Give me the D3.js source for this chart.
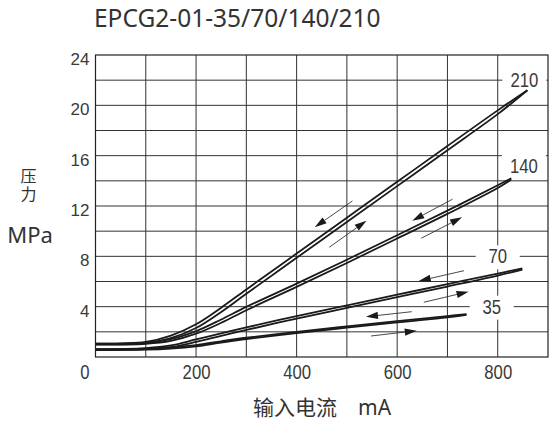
<!DOCTYPE html>
<html>
<head>
<meta charset="utf-8">
<script src="https://cdn.jsdelivr.net/npm/d3@7"></script>
<style>
  html, body { margin: 0; padding: 0; background: #fff; }
  svg { display: block; }
  .num { font-family: "Liberation Sans", Arial, sans-serif; fill: #3a3a3a; }
</style>
</head>
<body>
<div id="chart"></div>
<script>
// pressure curves, [mA, MPa]; each model has a rising and a falling branch
const rise210 = [[0,1.0],[100,1.1],[150,1.5],[200,2.3],[250,3.58],[300,5.03],[400,7.88],[500,10.73],[600,13.58],[700,16.43],[800,19.3],[859,21.2]];
const fall210 = [[0,1.06],[100,1.2],[150,1.7],[200,2.6],[250,3.92],[300,5.37],[400,8.22],[500,11.07],[600,13.92],[700,16.77],[800,19.6],[859,21.2]];
const rise140 = [[0,0.98],[100,1.05],[150,1.28],[200,1.85],[250,2.72],[300,3.72],[400,5.57],[500,7.47],[600,9.42],[700,11.37],[800,13.43],[827,14.1]];
const fall140 = [[0,1.06],[100,1.14],[150,1.42],[200,2.05],[250,2.98],[300,3.98],[400,5.83],[500,7.73],[600,9.68],[700,11.63],[800,13.65],[827,14.2]];
const rise70 = [[0,0.56],[100,0.62],[150,0.78],[200,1.2],[250,1.68],[300,2.15],[400,3.05],[500,3.9],[600,4.75],[700,5.6],[800,6.47],[849,6.95]];
const fall70 = [[0,0.63],[100,0.71],[150,0.92],[200,1.4],[250,1.88],[300,2.35],[400,3.25],[500,4.1],[600,4.95],[700,5.8],[800,6.63],[849,7.05]];
const rise35 = [[0,0.54],[100,0.58],[150,0.67],[200,0.85],[250,1.15],[300,1.43],[400,1.9],[500,2.33],[600,2.75],[700,3.15],[738,3.35]];
const fall35 = [[0,0.62],[100,0.66],[150,0.77],[200,0.95],[250,1.25],[300,1.53],[400,2.0],[500,2.43],[600,2.85],[700,3.25],[738,3.41]];

// arrows: [from mA, from MPa, to mA, to MPa]
const arrows = [
  [511, 12.40, 436, 10.31], [465, 8.72, 539, 10.83],
  [710, 12.54, 630, 10.83], [648, 9.44, 729, 11.10],
  [733, 6.86, 643, 6.04], [653, 4.35, 742, 5.19],
  [629, 3.60, 538, 3.20], [548, 1.67, 639, 2.09]
];

// curve labels: text, mA, MPa
const curveLabels = [['210', 853, 22], ['140', 852, 15.2], ['70', 800, 8], ['35', 788, 4]];

const xTicks = [0, 200, 400, 600, 800];
const yTicks = [4, 8, 12, 16, 20, 24];
const xGrid = d3.range(100, 900, 100);
const yGrid = d3.range(2, 24, 2);

const width = 549;
const height = 425;

const x = d3.scaleLinear().domain([0, 900]).range([95.5, 548]);
const y = d3.scaleLinear().domain([0, 24]).range([357, 55]);

const svg = d3.select('#chart').append('svg')
  .attr('width', width)
  .attr('height', height);

// grid
const grid = svg.append('g').attr('stroke', '#333').attr('stroke-width', 1);
grid.selectAll('line.v').data(xGrid).join('line')
  .attr('class', 'v')
  .attr('x1', (d) => x(d)).attr('x2', (d) => x(d))
  .attr('y1', y(24)).attr('y2', y(0));
grid.selectAll('line.h').data(yGrid).join('line')
  .attr('class', 'h')
  .attr('x1', x(0)).attr('x2', x(900))
  .attr('y1', (d) => y(d)).attr('y2', (d) => y(d));

svg.append('rect')
  .attr('x', x(0)).attr('y', y(24))
  .attr('width', x(900) - x(0)).attr('height', y(0) - y(24))
  .attr('fill', 'none').attr('stroke', '#222').attr('stroke-width', 1.2);

// white boxes behind the curve labels
svg.append('g').selectAll('rect').data(curveLabels).join('rect')
  .attr('x', (d) => x(d[1]) - 22)
  .attr('y', (d) => y(d[2]) - 11)
  .attr('width', 44)
  .attr('height', 24)
  .attr('fill', '#fff');

// curves
const line = d3.line()
  .x((d) => x(d[0]))
  .y((d) => y(d[1]))
  .curve(d3.curveCatmullRom.alpha(0.5));

const series = [rise210, fall210, rise140, fall140, rise70, fall70, rise35, fall35];
svg.append('g').selectAll('path').data(series).join('path')
  .attr('d', line)
  .attr('fill', 'none')
  .attr('stroke', '#1a1a1a')
  .attr('stroke-width', 1.8);

// arrows
const arrowG = svg.append('g');
arrows.forEach((a) => {
  const x1 = x(a[0]), y1 = y(a[1]), x2 = x(a[2]), y2 = y(a[3]);
  const ang = Math.atan2(y2 - y1, x2 - x1);
  const len = 12, half = 3.6;
  const bx = x2 - len * Math.cos(ang), by = y2 - len * Math.sin(ang);
  arrowG.append('line')
    .attr('x1', x1).attr('y1', y1).attr('x2', bx).attr('y2', by)
    .attr('stroke', '#333').attr('stroke-width', 0.9);
  const px = -Math.sin(ang) * half, py = Math.cos(ang) * half;
  arrowG.append('path')
    .attr('d', `M${x2},${y2}L${bx + px},${by + py}L${bx - px},${by - py}Z`)
    .attr('fill', '#1a1a1a');
});

// squeeze digits a little, the source uses a condensed face
const digitW = 9.3;

// curve labels
svg.append('g').selectAll('text').data(curveLabels).join('text')
  .attr('class', 'num')
  .attr('x', (d) => x(d[1]))
  .attr('y', (d) => y(d[2]) + 7)
  .attr('text-anchor', 'middle')
  .attr('textLength', (d) => d[0].length * digitW)
  .attr('lengthAdjust', 'spacingAndGlyphs')
  .style('font-size', '19.5px')
  .text((d) => d[0]);

// axes
const xAxis = svg.append('g')
  .attr('transform', `translate(0, ${y(0)})`)
  .call(d3.axisBottom(x).tickValues(xTicks).tickSize(0).tickPadding(0));
xAxis.select('.domain').remove();
xAxis.selectAll('text')
  .attr('class', 'num')
  .attr('y', 22)
  .attr('dy', 0)
  .attr('textLength', (d) => String(d).length * digitW)
  .attr('lengthAdjust', 'spacingAndGlyphs')
  .style('font-size', '19.5px')
  .attr('dx', (d) => (d === 0 ? -11 : 0));

const yAxis = svg.append('g')
  .attr('transform', `translate(${x(0)}, 0)`)
  .call(d3.axisLeft(y).tickValues(yTicks).tickSize(0).tickPadding(6));
yAxis.select('.domain').remove();
yAxis.selectAll('text')
  .attr('class', 'num')
  .attr('dy', 9.5)
  .style('font-size', '17px');

// titles
svg.append('text')
  .attr('x', 94).attr('y', 27)
  .style('font-family', '"Noto Sans", sans-serif')
  .style('font-size', '24.5px')
  .attr('fill', '#333')
  .text('EPCG2-01-35/70/140/210');

// vertical y title
svg.append('text')
  .attr('x', 28.5).attr('y', 168)
  .style('writing-mode', 'vertical-rl')
  .style('font-family', '"Noto Sans CJK SC", sans-serif')
  .style('font-size', '16px')
  .style('letter-spacing', '2px')
  .attr('fill', '#333')
  .text('压力');

svg.append('text')
  .attr('x', 30).attr('y', 242.5)
  .attr('text-anchor', 'middle')
  .style('font-family', '"Noto Sans", sans-serif')
  .style('font-size', '22px')
  .attr('fill', '#333')
  .text('MPa');

const xTitle = svg.append('text')
  .attr('x', 253).attr('y', 415)
  .attr('fill', '#333')
  .style('font-size', '21px');
xTitle.append('tspan')
  .style('font-family', '"Noto Sans CJK SC", sans-serif')
  .text('输入电流');
xTitle.append('tspan')
  .attr('x', 358)
  .style('font-family', '"Noto Sans", sans-serif')
  .text('mA');
</script>
</body>
</html>
